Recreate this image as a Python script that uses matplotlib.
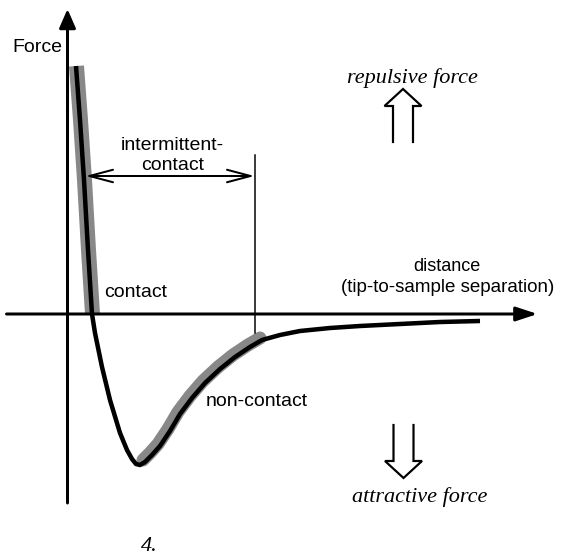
"""
Force vs tip-to-sample distance (AFM operating regimes)
"""

import matplotlib
matplotlib.use("Agg")
import matplotlib.pyplot as plt
import matplotlib.transforms as mtransforms
import numpy as np

# curve (origin = where the axes cross)
distance = np.array([8.5, 12.5, 16.5, 20.5, 24.5, 27.5, 34.5, 42.5, 52.5, 59.5, 64.5,
                     68.5, 72.5, 77.5, 84.5, 92.5, 102.5, 112.5, 124.5, 137.5, 152.5,
                     167.5, 182.5, 194.5, 212.5, 232.5, 262.5, 292.5, 332.5, 372.5, 412.5])
force = np.array([248, 194, 134, 64, 0, -19, -53, -86, -119, -136, -145,
                  -150, -151, -148, -141, -132, -117, -100, -84, -69, -55,
                  -43, -33, -26, -21, -17, -14, -12, -10, -8, -7])

# regime limits
noncontact_range = (77, 195)
intermittent_range = (18, 187)

SANS = "Liberation Sans"
SERIF = "Liberation Serif"

fig = plt.figure(figsize=(5.70, 5.58), dpi=100)
ax = fig.add_axes([0, 0, 1, 1])
ax.set_xlim(-67.5, 502.5)
ax.set_ylim(-244, 314)
ax.axis("off")

px = 0.72  # one pixel in points

# grey highlight bands
contact = force >= 0
noncontact = (distance >= noncontact_range[0]) & (distance <= noncontact_range[1])
shift_c = mtransforms.offset_copy(ax.transData, fig=fig, x=0.5, y=0, units="dots")
shift_n = mtransforms.offset_copy(ax.transData, fig=fig, x=-2, y=2, units="dots")
ax.plot(distance[contact], force[contact], color="#888888", lw=15 * px,
        solid_capstyle="butt", transform=shift_c, zorder=1)
ax.plot(distance[noncontact], force[noncontact], color="#888888", lw=13 * px,
        solid_capstyle="round", transform=shift_n, zorder=1)

# force curve
ax.plot(distance, force, color="black", lw=4.5 * px, solid_joinstyle="round",
        solid_capstyle="butt", zorder=3)

# axes with arrows
ax.annotate("", xy=(0, 305), xytext=(0, -189),
            arrowprops=dict(arrowstyle="-|>,head_length=1.15,head_width=0.5",
                            mutation_scale=10, lw=3 * px, color="black",
                            shrinkA=0, shrinkB=0), zorder=2)
ax.annotate("", xy=(470, 0), xytext=(-61, 0),
            arrowprops=dict(arrowstyle="-|>,head_length=1.3,head_width=0.43",
                            mutation_scale=10, lw=3 * px, color="black",
                            shrinkA=0, shrinkB=0), zorder=2)

# intermittent-contact dimension
ax.plot([intermittent_range[1], intermittent_range[1]], [159, -19],
        color="black", lw=1.5 * px, zorder=2)
ax.annotate("", xy=(intermittent_range[0], 138), xytext=(intermittent_range[1], 138),
            arrowprops=dict(arrowstyle="<->,head_length=1.7,head_width=0.45",
                            mutation_scale=10, lw=2 * px, color="black",
                            shrinkA=0, shrinkB=0), zorder=2)


# hollow arrows for repulsive / attractive
def hollow_arrow(x, tail, tip, head_len=17, head_half=18.5, shaft_half=10):
    sign = 1 if tip > tail else -1
    base = tip - sign * head_len
    xs = [x - shaft_half, x - shaft_half, x - head_half, x,
          x + head_half, x + shaft_half, x + shaft_half]
    ys = [tail, base, base, tip, base, base, tail]
    ax.plot(xs, ys, color="black", lw=2.2 * px, solid_joinstyle="miter")


hollow_arrow(335.5, 172, 225)
hollow_arrow(336, -111, -164)

# labels
ax.text(-30, 262, "Force", family=SANS, fontsize=14, ha="center", va="baseline")
ax.text(105, 164, "intermittent-", family=SANS, fontsize=14, ha="center", va="baseline")
ax.text(105, 144, "contact", family=SANS, fontsize=14, ha="center", va="baseline")
ax.text(37, 17, "contact", family=SANS, fontsize=14, ha="left", va="baseline")
ax.text(138, -92, "non-contact", family=SANS, fontsize=14, ha="left", va="baseline")
ax.text(379, 43, "distance", family=SANS, fontsize=13, ha="center", va="baseline")
ax.text(380, 22, "(tip-to-sample separation)", family=SANS, fontsize=13.5,
        ha="center", va="baseline")
ax.text(345, 231, "repulsive force", family=SERIF, style="italic", fontsize=16,
        ha="center", va="baseline")
ax.text(352, -188, "attractive force", family=SERIF, style="italic", fontsize=16,
        ha="center", va="baseline")
ax.text(73, -237, "4.", family=SERIF, style="italic", fontsize=16,
        ha="left", va="baseline")

fig.savefig("out.png", dpi=100)
